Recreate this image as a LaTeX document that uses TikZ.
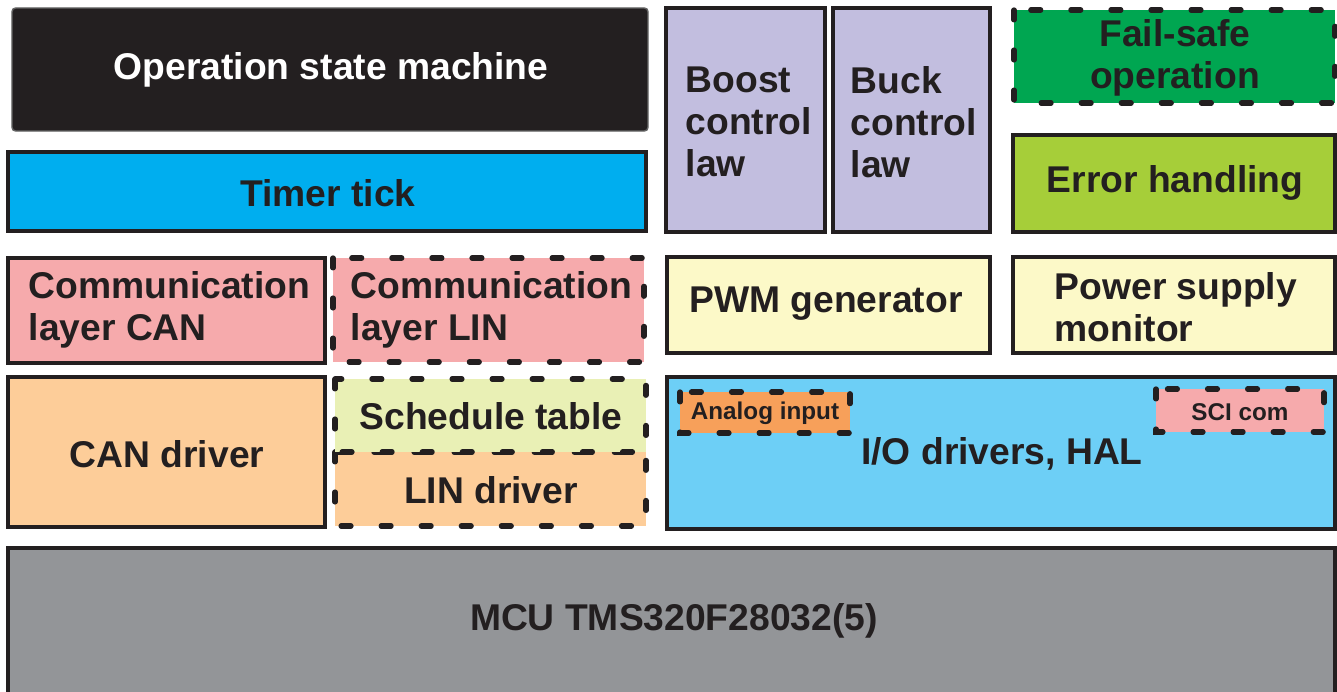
\documentclass[tikz,border=0pt]{standalone}
\usepackage{fontspec}
\setmainfont{Liberation Sans}
\usepackage{xcolor}

\definecolor{ink}{RGB}{35,31,32}
\definecolor{tickblue}{RGB}{0,174,239}
\definecolor{lavender}{RGB}{194,190,223}
\definecolor{safegreen}{RGB}{0,166,81}
\definecolor{errgreen}{RGB}{166,206,57}
\definecolor{compink}{RGB}{246,170,172}
\definecolor{paleyellow}{RGB}{252,249,200}
\definecolor{paleorange}{RGB}{253,205,153}
\definecolor{schedgreen}{RGB}{233,240,181}
\definecolor{halblue}{RGB}{109,207,246}
\definecolor{adcorange}{RGB}{247,160,90}
\definecolor{mcugray}{RGB}{147,149,152}

\tikzset{
  solidbox/.style={draw=ink, line width=1.4pt},
  dashbox/.style={draw=ink, line width=1.5pt, line cap=round, dash pattern=on 2.8pt off 8.6pt},
  txt/.style={text=ink, inner sep=0pt, font=\bfseries\fontsize{10.6}{12}\selectfont},
  smalltxt/.style={text=ink, inner sep=0pt, font=\bfseries\fontsize{6.9}{8}\selectfont}
}

\begin{document}
\begin{tikzpicture}[x=0.1mm, y=-0.1mm]

    \useasboundingbox (0,0) rectangle (1337,692);

    % Top left: state machine and timer
    \draw[fill=ink, draw=black!60, line width=0.4pt, rounded corners=1pt] (12,8) rectangle (648,131);
    \node[txt, text=white] (osm) at (331,70) {Operation state machine}; % white on black
    \draw[solidbox, fill=tickblue] (8,152) rectangle (646,231);
    \node[txt] (tick) at (328,193) {Timer tick};

    % Control laws
    \draw[solidbox, fill=lavender] (666,8) rectangle (825,232);
    \node[txt, anchor=west, align=left] (boost) at (685,122) {Boost\\control\\law};
    \draw[solidbox, fill=lavender] (833,8) rectangle (990,232);
    \node[txt, anchor=west, align=left] (buck) at (850,122) {Buck\\control\\law};

    % Safety column
    \draw[dashbox, fill=safegreen] (1014,10) rectangle (1335,103);
    \node[txt, align=center] (failsafe) at (1175,58) {Fail-safe\\operation};
    \draw[solidbox, fill=errgreen] (1013,135) rectangle (1335,232);
    \node[txt] (errh) at (1175,183) {Error handling};

    % Communication layers
    \draw[solidbox, fill=compink] (8,258) rectangle (325,363);
    \node[txt, anchor=west, align=left] (comcan) at (28,310) {Communication\\layer CAN};
    \draw[dashbox, fill=compink] (333,258) rectangle (644,362);
    \node[txt, anchor=west, align=left] (comlin) at (350,310) {Communication\\layer LIN};

    % PWM and supply monitor
    \draw[solidbox, fill=paleyellow] (667,257) rectangle (990,353);
    \node[txt] (pwm) at (826,304) {PWM generator};
    \draw[solidbox, fill=paleyellow] (1013,257) rectangle (1335,353);
    \node[txt, anchor=west, align=left] (psm) at (1054,307) {Power supply\\monitor};

    % Drivers
    \draw[solidbox, fill=paleorange] (8,377) rectangle (325,527);
    \node[txt] (candrv) at (167,454) {CAN driver};
    \draw[dashbox, fill=paleorange] (335,452) rectangle (646,526);
    \node[txt] (lindrv) at (491,490) {LIN driver};
    \draw[dashbox, fill=schedgreen] (335,379) rectangle (646,452);
    \node[txt] (sched) at (491,416) {Schedule table};

    % HAL with its small blocks
    \draw[solidbox, fill=halblue] (667,377) rectangle (1335,529);
    \node[txt] (hal) at (1002,454) {I/O drivers, HAL};
    \draw[dashbox, fill=adcorange] (680,392) rectangle (850,433);
    \node[smalltxt] (adc) at (765,413) {Analog input};
    \draw[dashbox, fill=compink] (1156,389) rectangle (1324,432);
    \node[smalltxt] (sci) at (1240,412) {SCI com};

    % MCU at the bottom
    \draw[solidbox, fill=mcugray] (8,548) rectangle (1335,700);
    \node[txt] (mcu) at (674,621) {MCU TMS320F28032(5)};

\end{tikzpicture}
\end{document}
